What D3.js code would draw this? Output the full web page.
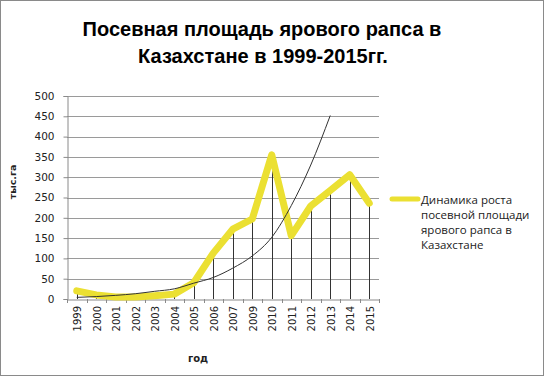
<!DOCTYPE html>
<html>
<head>
<meta charset="utf-8">
<script src="https://cdn.jsdelivr.net/npm/d3@7"></script>
<style>
  body { margin: 0; background: #fff; }
  svg { display: block; }
</style>
</head>
<body>
<svg id="chart"></svg>
<script>
// Данные (тыс. га), 2008 в исходной таблице отсутствует
const years = ["1999", "2000", "2001", "2002", "2003", "2004", "2005", "2006",
               "2007", "2009", "2010", "2011", "2012", "2013", "2014", "2015"];
const area = [20, 10, 5, 5, 8, 12, 40, 113, 172, 197, 355, 156, 229, 267, 306, 236];
// экспоненциальная линия тренда (до 2013)
const trendYears = years.slice(0, 14);
const trend = [4, 6, 9, 13, 19, 25, 39, 53, 76, 106, 152, 230, 330, 452];
const yTicks = [0, 50, 100, 150, 200, 250, 300, 350, 400, 450, 500];
const seriesName = ["Динамика роста", "посевной площади", "ярового рапса в", "Казахстане"];

const width = 544, height = 376;
const plotLeft = 67, plotRight = 379, plotTop = 96, plotBottom = 299;
const yellow = "#ebe032";

const svg = d3.select("#chart").attr("width", width).attr("height", height);

// рамка
svg.append("rect")
  .attr("x", 0.5).attr("y", 0.5)
  .attr("width", width - 1).attr("height", height - 1)
  .attr("fill", "#fff").attr("stroke", "#8a8a8a");

// заголовок
const title = svg.append("text")
  .attr("text-anchor", "middle")
  .style("font-family", "Liberation Sans, Arial, sans-serif")
  .style("font-weight", "bold")
  .style("font-size", "20px")
  .attr("fill", "#000");
title.append("tspan").attr("x", 262).attr("y", 36).text("Посевная площадь ярового рапса в");
title.append("tspan").attr("x", 263).attr("y", 63).text("Казахстане в 1999-2015гг.");

const x = d3.scaleBand().domain(years).range([plotLeft, plotRight]);
const y = d3.scaleLinear().domain([0, 500]).range([plotBottom, plotTop]);

// сетка
svg.append("g")
  .selectAll("line")
  .data(yTicks.filter(d => d > 0))
  .enter()
  .append("line")
  .attr("x1", plotLeft).attr("x2", plotRight)
  .attr("y1", d => Math.round(y(d)) + 0.5)
  .attr("y2", d => Math.round(y(d)) + 0.5)
  .attr("stroke", "#9a9a9a");

// ось Y
const yAxis = d3.axisLeft(y).tickValues(yTicks).tickSize(4).tickPadding(9);
const gy = svg.append("g")
  .attr("transform", `translate(${plotLeft + 0.5},0)`)
  .call(yAxis);
gy.select(".domain").attr("stroke", "#8a8a8a");
gy.selectAll(".tick line").attr("stroke", "#8a8a8a");
gy.selectAll(".tick text")
  .style("font-family", "DejaVu Sans, Verdana, sans-serif")
  .style("font-size", "10.5px")
  .attr("fill", "#222");

// ось X
const xAxis = d3.axisBottom(x).tickSize(0).tickFormat("");
const gx = svg.append("g")
  .attr("transform", `translate(0,${Math.round(plotBottom) + 0.5})`)
  .call(xAxis);
gx.select(".domain").attr("stroke", "#8a8a8a");

// деления между категориями
svg.append("g")
  .selectAll("line")
  .data(years.concat(["end"]))
  .enter()
  .append("line")
  .attr("x1", (d, i) => Math.round(plotLeft + i * x.step()) + 0.5)
  .attr("x2", (d, i) => Math.round(plotLeft + i * x.step()) + 0.5)
  .attr("y1", plotBottom).attr("y2", plotBottom + 4)
  .attr("stroke", "#8a8a8a");

svg.append("g")
  .selectAll("text")
  .data(years)
  .enter()
  .append("text")
  .attr("transform", d => `translate(${x(d) + x.bandwidth() / 2 + 1},306) rotate(-90)`)
  .attr("text-anchor", "end")
  .attr("dy", "0.35em")
  .style("font-family", "DejaVu Sans, Verdana, sans-serif")
  .style("font-size", "10px")
  .attr("fill", "#222")
  .text(d => d);

// подписи осей
svg.append("text")
  .attr("transform", "translate(16,182) rotate(-90)")
  .attr("text-anchor", "middle")
  .style("font-family", "DejaVu Sans, Verdana, sans-serif")
  .style("font-weight", "bold")
  .style("font-size", "9.5px")
  .attr("fill", "#222")
  .text("тыс.га");

svg.append("text")
  .attr("x", 198).attr("y", 362)
  .attr("text-anchor", "middle")
  .style("font-family", "DejaVu Sans, Verdana, sans-serif")
  .style("font-weight", "bold")
  .style("font-size", "10px")
  .attr("fill", "#222")
  .text("год");

const cx = d => x(d) + x.bandwidth() / 2;

// линии проекции
svg.append("g")
  .selectAll("line")
  .data(years)
  .enter()
  .append("line")
  .attr("x1", d => Math.round(cx(d)) + 0.5)
  .attr("x2", d => Math.round(cx(d)) + 0.5)
  .attr("y1", plotBottom)
  .attr("y2", (d, i) => y(area[i]))
  .attr("stroke", "#333");

// ряд
const line = d3.line()
  .x(d => cx(d[0]))
  .y(d => y(d[1]));

svg.append("path")
  .datum(years.map((d, i) => [d, area[i]]))
  .attr("d", line)
  .attr("fill", "none")
  .attr("stroke", yellow)
  .attr("stroke-width", 7)
  .attr("stroke-linejoin", "round")
  .attr("stroke-linecap", "round");

// линия тренда
svg.append("path")
  .datum(trendYears.map((d, i) => [d, trend[i]]))
  .attr("d", line.curve(d3.curveMonotoneX))
  .attr("fill", "none")
  .attr("stroke", "#333")
  .attr("stroke-width", 1);

// легенда
svg.append("line")
  .attr("x1", 392).attr("x2", 418)
  .attr("y1", 199).attr("y2", 199)
  .attr("stroke", yellow)
  .attr("stroke-width", 5)
  .attr("stroke-linecap", "round");

const leg = svg.append("text")
  .style("font-family", "Open Sans, sans-serif")
  .style("font-size", "11.5px")
  .attr("fill", "#222");
leg.selectAll("tspan")
  .data(seriesName)
  .enter()
  .append("tspan")
  .attr("x", 421)
  .attr("y", (d, i) => 204 + i * 15)
  .text(d => d);
</script>
</body>
</html>
